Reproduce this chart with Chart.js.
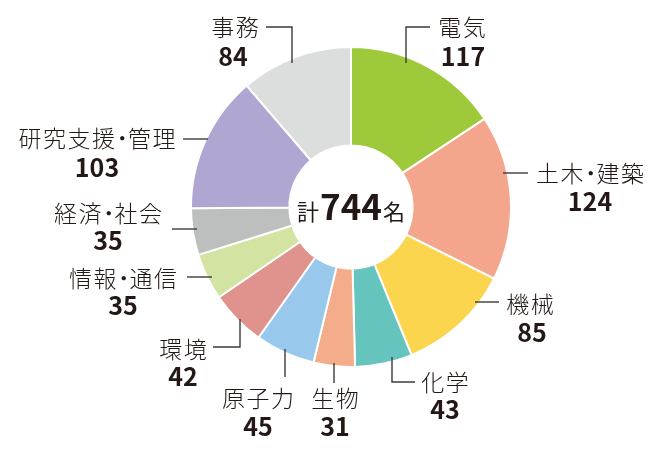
<!DOCTYPE html>
<html lang="ja">
<head>
<meta charset="utf-8">
<title>職種別人数</title>
<script src="https://cdn.jsdelivr.net/npm/chart.js@4"></script>
<style>
  html, body { margin: 0; padding: 0; background: #fff; }
  #wrap { width: 661px; height: 468px; }
</style>
</head>
<body>
<div id="wrap"><canvas id="donut" width="661" height="468"></canvas></div>
<script>
const categories = ['電気', '土木・建築', '機械', '化学', '生物', '原子力', '環境', '情報・通信', '経済・社会', '研究支援・管理', '事務'];
const headcount = [117, 124, 85, 43, 31, 45, 42, 35, 35, 103, 84];
const totalLabel = ['計', '744', '名'];

const sliceColors = [
  '#9dc93a', '#f3a68b', '#fcd54e', '#66c4be', '#f4ad8a', '#98c9ec',
  '#df938c', '#d2e3a2', '#bdbfbe', '#b1a6d1', '#dcdedd',
];

// label placement, offsets from the doughnut centre
const labelLayout = {
  '電気':        { name: [111, -180], value: [112, -151], line: [[79, -180], [55, -180], [55, -144]] },
  '土木・建築':  { name: [239, -34], value: [239, -6], line: [[152, -34], [177, -34]] },
  '機械':        { name: [179, 97], value: [181, 125], line: [[124, 95], [148, 95]] },
  '化学':        { name: [94, 175], value: [94, 202], line: [[41, 150], [41, 175], [64, 175]] },
  '生物':        { name: [-16, 191], value: [-16, 219], line: [[-17, 156], [-17, 176]] },
  '原子力':      { name: [-93, 191], value: [-93, 219], line: [[-66, 142], [-66, 170]] },
  '環境':        { name: [-168, 142], value: [-168, 169], line: [[-138, 140], [-111, 140], [-111, 112]] },
  '情報・通信':  { name: [-228, 71], value: [-228, 98], line: [[-164, 70], [-139, 70]] },
  '経済・社会':  { name: [-243, 6], value: [-243, 33], line: [[-179, 22], [-154, 22]] },
  '研究支援・管理': { name: [-254, -69], value: [-254, -40], line: [[-168, -68], [-143, -68]] },
  '事務':        { name: [-116, -180], value: [-118, -151], line: [[-85, -180], [-59, -180], [-59, -144]] },
};

const textColor = '#231815';
const nameSize = 23;
const nameFont = '300 ' + nameSize + 'px "Noto Sans CJK JP", "Noto Sans", sans-serif';
const valueFont = '700 25px "Noto Sans CJK JP", "Noto Sans", sans-serif';
const tracking = 1.5;

// draw a label char by char, the middle dot set half width like the print
function drawName(ctx, text, x, y) {
  ctx.font = nameFont;
  const chars = Array.from(text);
  const adv = chars.map((c) => (c === '・' ? nameSize * 0.5 : ctx.measureText(c).width + tracking));
  const total = adv.reduce((a, b) => a + b, 0) - tracking;
  let px = x - total / 2;
  ctx.textAlign = 'center';
  chars.forEach((c, k) => {
    const w = c === '・' ? adv[k] : adv[k] - tracking;
    ctx.fillText(c, px + w / 2, y);
    px += adv[k];
  });
}

const calloutPlugin = {
  id: 'callouts',
  afterDraw(chart) {
    const ctx = chart.ctx;
    const meta = chart.getDatasetMeta(0);
    const cx = meta.data[0].x;
    const cy = meta.data[0].y;
    const values = chart.data.datasets[0].data;

    ctx.save();
    chart.data.labels.forEach((label, i) => {
      const lay = labelLayout[label];
      if (!lay) return;
      ctx.strokeStyle = '#3e3a39';
      ctx.lineWidth = 1.4;
      ctx.beginPath();
      lay.line.forEach((p, j) => {
        if (j === 0) ctx.moveTo(cx + p[0], cy + p[1]);
        else ctx.lineTo(cx + p[0], cy + p[1]);
      });
      ctx.stroke();

      ctx.fillStyle = textColor;
      ctx.textBaseline = 'middle';
      drawName(ctx, label, cx + lay.name[0], cy + lay.name[1]);
      ctx.textAlign = 'center';
      ctx.font = valueFont;
      ctx.fillText(String(values[i]), cx + lay.value[0], cy + lay.value[1]);
    });

    // total in the hole
    ctx.textBaseline = 'alphabetic';
    ctx.textAlign = 'left';
    const smallFont = '400 22px "Noto Sans CJK JP", sans-serif';
    const bigFont = '700 35px "Noto Sans CJK JP", sans-serif';
    ctx.font = smallFont;
    const w1 = ctx.measureText(totalLabel[0]).width;
    const w3 = ctx.measureText(totalLabel[2]).width;
    ctx.font = bigFont;
    const w2 = ctx.measureText(totalLabel[1]).width;
    const gap = 1;
    let x = cx - (w1 + w2 + w3 + gap * 2) / 2;
    const base = cy + 13;
    ctx.font = smallFont;
    ctx.fillText(totalLabel[0], x, base);
    x += w1 + gap;
    ctx.font = bigFont;
    ctx.fillText(totalLabel[1], x, base);
    x += w2 + gap;
    ctx.font = smallFont;
    ctx.fillText(totalLabel[2], x, base);
    ctx.restore();
  },
};

new Chart(document.getElementById('donut'), {
  type: 'doughnut',
  data: {
    labels: categories,
    datasets: [
      {
        label: '人数',
        data: headcount,
        backgroundColor: sliceColors,
        borderColor: '#ffffff',
        borderWidth: 2,
      },
    ],
  },
  options: {
    responsive: false,
    animation: false,
    cutout: '38.5%',
    layout: { padding: { left: 190, right: 149, top: 46, bottom: 100 } },
    plugins: {
      legend: { display: false },
      tooltip: { enabled: false },
    },
  },
  plugins: [calloutPlugin],
});
</script>
</body>
</html>
